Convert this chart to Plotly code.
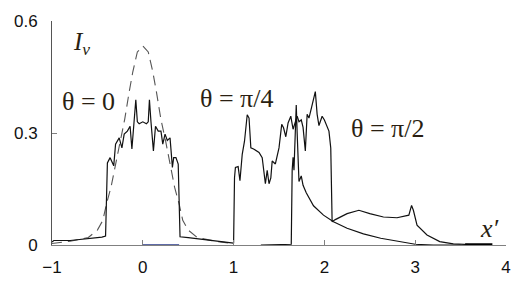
import plotly.graph_objects as go

# theta = 0, solid
x0_solid = [-1.0, -0.98, -0.8, -0.6, -0.45, -0.41, -0.39, -0.36, -0.32, -0.30, -0.26, -0.23, -0.205,
            -0.17, -0.14, -0.12, -0.095, -0.077, -0.06, -0.04, 0.0, 0.04, 0.06, 0.073, 0.09,
            0.117, 0.14, 0.17, 0.2, 0.22, 0.245, 0.27, 0.30, 0.326, 0.34, 0.365, 0.39, 0.41,
            0.5, 0.7, 0.9, 1.0]
y0_solid = [0.008, 0.012, 0.012, 0.016, 0.021, 0.024, 0.22, 0.234, 0.212, 0.27, 0.287, 0.26, 0.297,
            0.305, 0.318, 0.257, 0.34, 0.389, 0.33, 0.325, 0.33, 0.325, 0.33, 0.389, 0.33,
            0.252, 0.318, 0.305, 0.305, 0.27, 0.297, 0.28, 0.287, 0.208, 0.234, 0.234, 0.217, 0.022,
            0.02, 0.014, 0.008, 0.005]

# theta = 0, dashed
x0_dash = [-1.0, -0.8, -0.6, -0.5, -0.44, -0.4, -0.35, -0.3, -0.25, -0.2, -0.15, -0.11, -0.06, 0.0,
           0.06, 0.11, 0.15, 0.2, 0.25, 0.3, 0.35, 0.4, 0.44, 0.5, 0.6, 0.8, 1.0]
y0_dash = [0.004, 0.01, 0.02, 0.04, 0.066, 0.11, 0.155, 0.217, 0.28, 0.336, 0.41, 0.464, 0.517, 0.533,
           0.517, 0.464, 0.41, 0.336, 0.28, 0.217, 0.155, 0.11, 0.066, 0.04, 0.02, 0.01, 0.004]

# theta = pi/4
x_pi4 = [1.0, 1.01, 1.02, 1.05, 1.07, 1.095, 1.12, 1.15, 1.17, 1.19, 1.22, 1.28, 1.315, 1.33, 1.35,
         1.37, 1.39, 1.41, 1.425, 1.46, 1.5, 1.53, 1.55, 1.575, 1.6, 1.63, 1.655, 1.68, 1.70, 1.72,
         1.745, 1.765, 1.79, 1.81, 1.83, 1.86, 1.90, 1.92, 1.94, 1.975, 2.0, 2.05, 2.07, 2.085,
         2.12, 2.25, 2.38, 2.5, 2.65, 2.8, 2.93, 2.96, 2.98, 3.02, 3.13, 3.27, 3.42, 3.6, 3.8]
y_pi4 = [0.005, 0.18, 0.208, 0.21, 0.172, 0.243, 0.278, 0.349, 0.34, 0.26, 0.257, 0.248, 0.234, 0.2, 0.164,
         0.2, 0.164, 0.18, 0.225, 0.217, 0.26, 0.323, 0.314, 0.29, 0.327, 0.345, 0.31, 0.33, 0.345, 0.33,
         0.335, 0.315, 0.252, 0.35, 0.34, 0.37, 0.411, 0.35, 0.32, 0.345, 0.335, 0.305, 0.26, 0.062,
         0.068, 0.084, 0.093, 0.084, 0.075, 0.073, 0.08, 0.106, 0.093, 0.053, 0.027, 0.009, 0.003, 0.001, 0.0]

# theta = pi/2
x_pi2 = [1.3, 1.635, 1.645, 1.655, 1.665, 1.68, 1.69, 1.70, 1.71, 1.72, 1.745, 1.765, 1.8, 1.88,
         1.99, 2.1, 2.25, 2.43, 2.62, 2.8, 2.95, 3.0, 3.2, 3.5]
y_pi2 = [0.0, 0.002, 0.2, 0.235, 0.2, 0.33, 0.375, 0.3, 0.19, 0.17, 0.185, 0.16, 0.14, 0.105,
         0.08, 0.062, 0.045, 0.03, 0.018, 0.01, 0.004, 0.002, 0.0, 0.0]

# small segments on the axis
x_blue = [0.0, 0.4]
y_blue = [0.0, 0.0]
x_dark = [3.55, 3.85]
y_dark = [0.002, 0.002]

x_ticks = [-1, 0, 1, 2, 3, 4]
y_ticks = [0, 0.3, 0.6]
y_ticktext = ["0", "0.3", "0.6"]

labels = ["θ = 0", "θ = π/4", "θ = π/2"]
label_x = [-0.6, 1.03, 2.69]
label_y = [0.385, 0.393, 0.313]

SERIF = "Liberation Serif"
SANS = "Liberation Sans"
TXT = "#2a1f12"

fig = go.Figure()
fig.add_trace(go.Scatter(x=x0_dash, y=y0_dash, mode="lines",
                         line=dict(color="#555555", width=1.1, dash="10px,6px"), cliponaxis=False))
fig.add_trace(go.Scatter(x=x0_solid, y=y0_solid, mode="lines",
                         line=dict(color="#111111", width=1.2), cliponaxis=False))
fig.add_trace(go.Scatter(x=x_pi4, y=y_pi4, mode="lines",
                         line=dict(color="#111111", width=1.2), cliponaxis=False))
fig.add_trace(go.Scatter(x=x_pi2, y=y_pi2, mode="lines",
                         line=dict(color="#111111", width=1.2), cliponaxis=False))
fig.add_trace(go.Scatter(x=x_blue, y=y_blue, mode="lines",
                         line=dict(color="#2a3a8a", width=1.5), cliponaxis=False))
fig.add_trace(go.Scatter(x=x_dark, y=y_dark, mode="lines",
                         line=dict(color="#000000", width=2), cliponaxis=False))

annotations = []
for t, lx, ly in zip(labels, label_x, label_y):
    annotations.append(dict(x=lx, y=ly, xref="x", yref="y", text=t, showarrow=False,
                            font=dict(family=SERIF, size=26, color=TXT)))
annotations.append(dict(x=-0.67, y=0.54, xref="x", yref="y", text="<i>I<sub>v</sub></i>",
                        showarrow=False, font=dict(family=SERIF, size=25, color=TXT)))
annotations.append(dict(x=3.82, y=0.045, xref="x", yref="y", text="<i>x′</i>",
                        showarrow=False, font=dict(family=SERIF, size=26, color=TXT)))

fig.update_layout(
    width=523, height=292,
    margin=dict(l=52, r=16, t=19, b=47),
    paper_bgcolor="white", plot_bgcolor="white",
    showlegend=False,
    font=dict(family=SANS, size=17, color="#111111"),
    annotations=annotations,
    xaxis=dict(range=[-1, 4], tickvals=x_ticks, ticks="inside", ticklen=5, tickcolor="#808080",
               showline=True, linecolor="#808080", linewidth=1, showgrid=False, zeroline=False,
               tickfont=dict(family=SANS, size=17, color="#111111"),
               ticklabelstandoff=7),
    yaxis=dict(range=[0, 0.6], tickvals=y_ticks, ticktext=y_ticktext, ticks="inside", ticklen=5,
               tickcolor="#808080", showline=True, linecolor="#555555", linewidth=1, showgrid=False,
               zeroline=False,
               tickfont=dict(family=SANS, size=17, color="#111111"),
               ticklabelstandoff=10),
)

fig.write_html("out.html")
